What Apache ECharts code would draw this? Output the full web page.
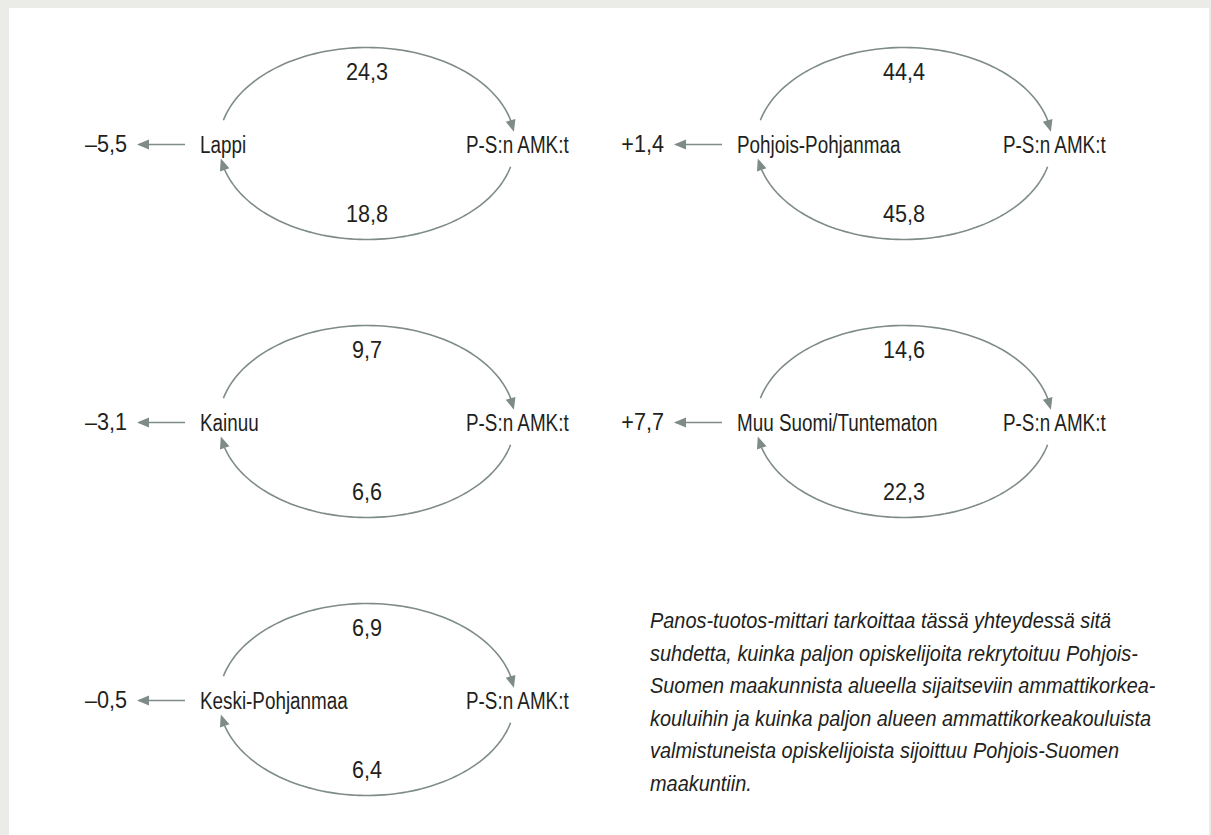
<!DOCTYPE html>
<html>
<head>
<meta charset="utf-8">
<script src="https://cdn.jsdelivr.net/npm/echarts@6/dist/echarts.min.js"></script>
<style>
  html, body { margin: 0; padding: 0; background: #ebebe7; }
  #chart { width: 1211px; height: 835px; }
</style>
</head>
<body>
<div id="chart"></div>
<script>
// ---- data ----
const regions = ['Lappi', 'Pohjois-Pohjanmaa', 'Kainuu', 'Muu Suomi/Tuntematon', 'Keski-Pohjanmaa'];
const toAmk = [24.3, 44.4, 9.7, 14.6, 6.9];        // region -> P-S:n AMK:t (upper arc)
const fromAmk = [18.8, 45.8, 6.6, 22.3, 6.4];      // P-S:n AMK:t -> region (lower arc)
const netValues = [-5.5, 1.4, -3.1, 7.7, -0.5];    // balance
const hubLabel = 'P-S:n AMK:t';
const noteLines = [
  'Panos-tuotos-mittari tarkoittaa tässä yhteydessä sitä',
  'suhdetta, kuinka paljon opiskelijoita rekrytoituu Pohjois-',
  'Suomen maakunnista alueella sijaitseviin ammattikorkea-',
  'kouluihin ja kuinka paljon alueen ammattikorkeakouluista',
  'valmistuneista opiskelijoista sijoittuu Pohjois-Suomen',
  'maakuntiin.'
];

// ---- styles ----
const FONT = "'Liberation Sans', Arial, Helvetica, sans-serif";
const NARROW = 0.82;      // condensed look for words
const NARROW_NUM = 0.94;  // digits are wider in the original face
const TEXT_COLOR = '#231f20';
const LINE_COLOR = '#7e8b89';

const fmt = v => v.toFixed(1).replace('.', ',');
const fmtNet = v => (v < 0 ? '\u2013' : '+') + fmt(Math.abs(v));

const seriesData = regions.map((r, i) => ({
  name: r,
  value: [i % 2, Math.floor(i / 2), toAmk[i], fromAmk[i], netValues[i]]
}));

function arrowHead(tip, base, len, half) {
  const dx = tip[0] - base[0], dy = tip[1] - base[1];
  const d = Math.sqrt(dx * dx + dy * dy) || 1;
  const ux = dx / d, uy = dy / d;
  const bx = tip[0] - ux * len, by = tip[1] - uy * len;
  return [tip, [bx - uy * half, by + ux * half], [bx + uy * half, by - ux * half]];
}

function renderItem(params, api) {
  const c = api.coord([api.value(0), api.value(1)]);
  const cx = c[0], cy = c[1];
  const idx = params.dataIndex;
  const rx = 148, ry = 96;
  const rad = Math.PI / 180;
  const pt = t => [cx + rx * Math.cos(t * rad), cy - ry * Math.sin(t * rad)];
  const arcPts = (t0, t1) => {
    const pts = [];
    const n = 80;
    for (let k = 0; k <= n; k++) pts.push(pt(t0 + (t1 - t0) * k / n));
    return pts;
  };
  const headLen = 12, headHalf = 5;
  const upTip = pt(7), upBase = pt(14);
  const upper = arcPts(166, 13);
  const loTip = pt(-171), loBase = pt(-164);
  const lower = arcPts(-14, -164);

  const lineStyle = { stroke: LINE_COLOR, lineWidth: 1.6, fill: null };
  const headStyle = { fill: LINE_COLOR };
  const txt = (x, y, text, align, size, sx) => ({
    type: 'text', x: x, y: y, scaleX: sx, scaleY: 1,
    style: { text: text, fill: TEXT_COLOR, fontFamily: FONT, fontSize: size,
      align: align, verticalAlign: 'middle' }
  });

  const hy = cy + 1;
  return {
    type: 'group',
    children: [
      { type: 'polyline', shape: { points: upper }, style: lineStyle },
      { type: 'polygon', shape: { points: arrowHead(upTip, upBase, headLen, headHalf) }, style: headStyle },
      { type: 'polyline', shape: { points: lower }, style: lineStyle },
      { type: 'polygon', shape: { points: arrowHead(loTip, loBase, headLen, headHalf) }, style: headStyle },
      { type: 'line', shape: { x1: cx - 182, y1: hy, x2: cx - 228, y2: hy }, style: { stroke: LINE_COLOR, lineWidth: 1.6 } },
      { type: 'polygon', shape: { points: arrowHead([cx - 230, hy], [cx - 182, hy], headLen, headHalf) }, style: headStyle },
      txt(cx - 240, hy, fmtNet(api.value(4)), 'right', 23, NARROW_NUM),
      txt(cx - 167, hy, regions[idx], 'left', 23, NARROW),
      txt(cx + 99, hy, hubLabel, 'left', 23, NARROW),
      txt(cx, cy - 71, fmt(api.value(2)), 'center', 23, NARROW_NUM),
      txt(cx, cy + 71, fmt(api.value(3)), 'center', 23, NARROW_NUM)
    ]
  };
}

const chart = echarts.init(document.getElementById('chart'), null, { renderer: 'svg' });
chart.setOption({
  backgroundColor: '#ebebe7',
  animation: false,
  graphic: [
    { type: 'rect', left: 9, top: 8, shape: { width: 1200, height: 827 }, style: { fill: '#ffffff' }, z: -10 },
    { type: 'text', x: 650, y: 604, scaleX: 0.905, scaleY: 1,
      style: { text: noteLines.join('\n'), fill: TEXT_COLOR, fontFamily: FONT, fontStyle: 'italic',
        fontSize: 22, lineHeight: 32.5, align: 'left', verticalAlign: 'top' } }
  ],
  grid: { left: 367, top: 143.5, width: 537, height: 556 },
  xAxis: { type: 'value', min: 0, max: 1, show: false },
  yAxis: { type: 'value', min: 0, max: 2, inverse: true, show: false },
  series: [{
    type: 'custom',
    clip: false,
    renderItem: renderItem,
    data: seriesData
  }]
});
</script>
</body>
</html>
